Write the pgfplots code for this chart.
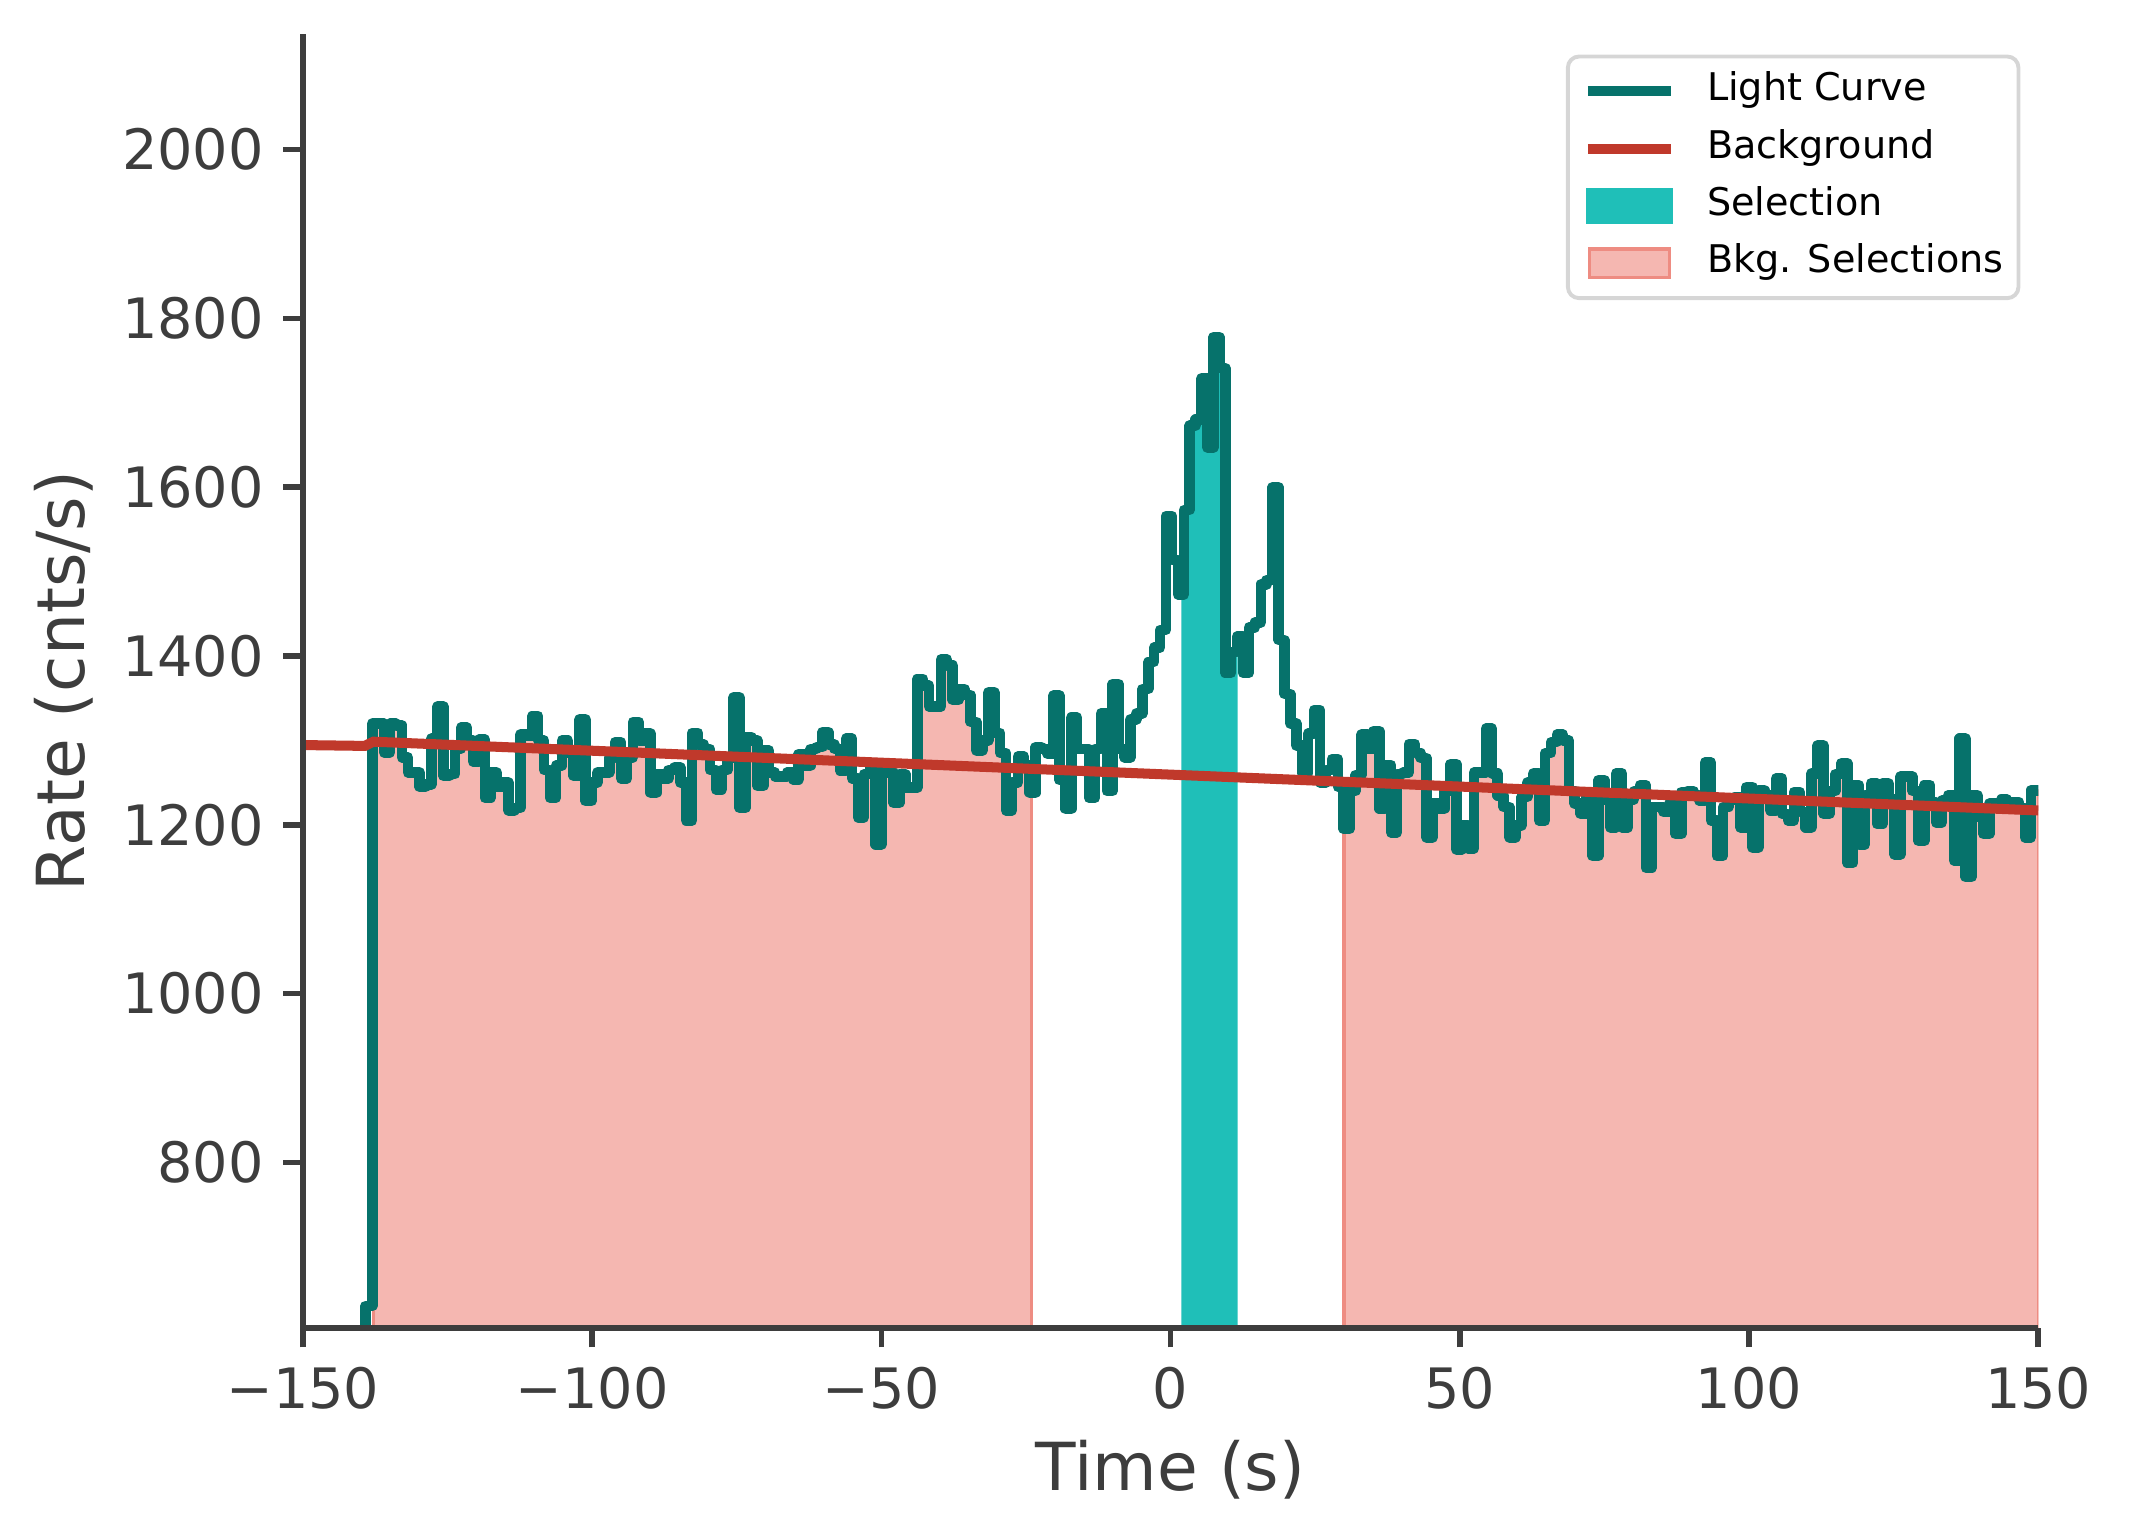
\documentclass[border=0pt]{standalone}
\usepackage{fontspec}
\setmainfont{DejaVu Sans}
\usepackage{pgfplots}
\pgfplotsset{compat=1.18}
\usepackage{pgfplotstable}

\definecolor{axgray}{RGB}{61,61,61}
\definecolor{lccol}{RGB}{6,114,107}
\definecolor{bgred}{RGB}{192,57,43}
\definecolor{selcol}{RGB}{31,191,184}
\definecolor{pinkfill}{RGB}{245,183,177}
\definecolor{pinkedge}{RGB}{238,140,130}
\definecolor{lgray}{RGB}{214,214,214}

% light curve (step, value holds from t to next t)
\pgfplotstableread{
t v
-140.300 300
-139.200 630
-138.000 1320
-136.976 1320
-135.952 1286
-134.928 1320
-133.904 1318
-132.880 1280
-131.856 1262
-130.832 1262
-129.808 1245
-128.784 1248
-127.760 1302
-126.736 1340
-125.712 1258
-124.688 1260
-123.664 1290
-122.640 1315
-121.616 1300
-120.592 1275
-119.568 1301
-118.544 1232
-117.520 1262
-116.496 1245
-115.472 1250
-114.448 1217
-113.424 1220
-112.400 1307
-111.376 1306
-110.352 1329
-109.328 1300
-108.304 1265
-107.280 1232
-106.256 1270
-105.232 1300
-104.208 1285
-103.184 1258
-102.160 1325
-101.136 1228
-100.112 1250
-99.088 1262
-98.064 1262
-97.040 1280
-96.016 1298
-94.992 1255
-93.968 1280
-92.944 1322
-91.920 1300
-90.896 1308
-89.872 1238
-88.848 1260
-87.824 1255
-86.800 1265
-85.776 1268
-84.752 1250
-83.728 1205
-82.704 1309
-81.680 1295
-80.656 1290
-79.632 1265
-78.608 1242
-77.584 1265
-76.560 1280
-75.536 1351
-74.512 1220
-73.488 1304
-72.464 1300
-71.440 1246
-70.416 1288
-69.392 1262
-68.368 1257
-67.344 1257
-66.320 1262
-65.296 1254
-64.272 1284
-63.248 1270
-62.224 1290
-61.200 1292
-60.176 1310
-59.152 1295
-58.128 1290
-57.104 1264
-56.080 1302
-55.056 1255
-54.032 1209
-53.008 1260
-51.984 1273
-50.960 1177
-49.936 1262
-48.912 1262
-47.888 1226
-46.864 1260
-45.840 1244
-44.816 1244
-43.792 1373
-42.768 1365
-41.744 1340
-40.720 1340
-39.696 1396
-38.672 1389
-37.648 1348
-36.624 1361
-35.600 1354
-34.576 1322
-33.552 1288
-32.528 1300
-31.504 1357
-30.480 1309
-29.456 1285
-28.432 1217
-27.408 1250
-26.384 1281
-25.360 1270
-24.336 1238
-23.312 1292
-22.288 1290
-21.264 1284
-20.240 1353
-19.216 1253
-18.192 1219
-17.168 1327
-16.144 1290
-15.120 1290
-14.096 1232
-13.072 1290
-12.048 1332
-11.024 1240
-10.000 1367
-8.976 1290
-7.952 1280
-6.928 1325
-5.904 1332
-4.880 1361
-3.856 1393
-2.832 1410
-1.808 1431
-0.784 1566
0.240 1514
1.264 1473
2.288 1573
3.312 1673
4.336 1680
5.360 1729
6.384 1647
7.408 1778
8.432 1741
9.456 1380
10.480 1405
11.504 1423
12.528 1380
13.552 1434
14.576 1440
15.600 1485
16.624 1490
17.648 1600
18.672 1419
19.696 1355
20.720 1320
21.744 1294
22.768 1261
23.792 1308
24.816 1336
25.840 1250
26.864 1265
27.888 1278
28.912 1245
29.936 1195
30.960 1240
31.984 1259
33.008 1307
34.032 1290
35.056 1311
36.080 1219
37.104 1271
38.128 1191
39.152 1260
40.176 1262
41.200 1296
42.224 1285
43.248 1279
44.272 1185
45.296 1225
46.320 1219
47.344 1240
48.368 1272
49.392 1171
50.416 1200
51.440 1172
52.464 1262
53.488 1262
54.512 1314
55.536 1261
56.560 1235
57.584 1221
58.608 1185
59.632 1199
60.656 1233
61.680 1250
62.704 1261
63.728 1205
64.752 1285
65.776 1298
66.800 1307
67.824 1300
68.848 1240
69.872 1225
70.896 1213
71.920 1239
72.944 1163
73.968 1253
74.992 1230
76.016 1197
77.040 1261
78.064 1197
79.088 1230
80.112 1240
81.136 1247
82.160 1149
83.184 1221
84.208 1221
85.232 1215
86.256 1225
87.280 1189
88.304 1239
89.328 1240
90.352 1235
91.376 1229
92.400 1274
93.424 1205
94.448 1163
95.472 1221
96.496 1230
97.520 1233
98.544 1197
99.568 1245
100.592 1173
101.616 1241
102.640 1235
103.664 1217
104.688 1255
105.712 1213
106.736 1205
107.760 1239
108.784 1215
109.808 1197
110.832 1261
111.856 1294
112.880 1213
113.904 1240
114.928 1260
115.952 1273
116.976 1155
118.000 1247
119.024 1177
120.048 1235
121.072 1249
122.096 1201
123.120 1249
124.144 1230
125.168 1165
126.192 1257
127.216 1257
128.240 1240
129.264 1181
130.288 1247
131.312 1227
132.336 1203
133.360 1229
134.384 1235
135.408 1158
136.432 1302
137.456 1138
138.480 1235
139.504 1210
140.528 1189
141.552 1225
142.576 1225
143.600 1230
144.624 1227
145.648 1227
146.672 1220
147.696 1185
148.720 1241
149.744 1241
150.768 1241
}\lc

% first background selection (-137.8 to -24.0)
\pgfplotstableread{
t v
-137.800 1320
-136.976 1320
-135.952 1286
-134.928 1320
-133.904 1318
-132.880 1280
-131.856 1262
-130.832 1262
-129.808 1245
-128.784 1248
-127.760 1302
-126.736 1340
-125.712 1258
-124.688 1260
-123.664 1290
-122.640 1315
-121.616 1300
-120.592 1275
-119.568 1301
-118.544 1232
-117.520 1262
-116.496 1245
-115.472 1250
-114.448 1217
-113.424 1220
-112.400 1307
-111.376 1306
-110.352 1329
-109.328 1300
-108.304 1265
-107.280 1232
-106.256 1270
-105.232 1300
-104.208 1285
-103.184 1258
-102.160 1325
-101.136 1228
-100.112 1250
-99.088 1262
-98.064 1262
-97.040 1280
-96.016 1298
-94.992 1255
-93.968 1280
-92.944 1322
-91.920 1300
-90.896 1308
-89.872 1238
-88.848 1260
-87.824 1255
-86.800 1265
-85.776 1268
-84.752 1250
-83.728 1205
-82.704 1309
-81.680 1295
-80.656 1290
-79.632 1265
-78.608 1242
-77.584 1265
-76.560 1280
-75.536 1351
-74.512 1220
-73.488 1304
-72.464 1300
-71.440 1246
-70.416 1288
-69.392 1262
-68.368 1257
-67.344 1257
-66.320 1262
-65.296 1254
-64.272 1284
-63.248 1270
-62.224 1290
-61.200 1292
-60.176 1310
-59.152 1295
-58.128 1290
-57.104 1264
-56.080 1302
-55.056 1255
-54.032 1209
-53.008 1260
-51.984 1273
-50.960 1177
-49.936 1262
-48.912 1262
-47.888 1226
-46.864 1260
-45.840 1244
-44.816 1244
-43.792 1373
-42.768 1365
-41.744 1340
-40.720 1340
-39.696 1396
-38.672 1389
-37.648 1348
-36.624 1361
-35.600 1354
-34.576 1322
-33.552 1288
-32.528 1300
-31.504 1357
-30.480 1309
-29.456 1285
-28.432 1217
-27.408 1250
-26.384 1281
-25.360 1270
-24.336 1238
-24.000 1238
}\bkgA

% second background selection (30.0 to 150)
\pgfplotstableread{
t v
30.000 1195
30.960 1240
31.984 1259
33.008 1307
34.032 1290
35.056 1311
36.080 1219
37.104 1271
38.128 1191
39.152 1260
40.176 1262
41.200 1296
42.224 1285
43.248 1279
44.272 1185
45.296 1225
46.320 1219
47.344 1240
48.368 1272
49.392 1171
50.416 1200
51.440 1172
52.464 1262
53.488 1262
54.512 1314
55.536 1261
56.560 1235
57.584 1221
58.608 1185
59.632 1199
60.656 1233
61.680 1250
62.704 1261
63.728 1205
64.752 1285
65.776 1298
66.800 1307
67.824 1300
68.848 1240
69.872 1225
70.896 1213
71.920 1239
72.944 1163
73.968 1253
74.992 1230
76.016 1197
77.040 1261
78.064 1197
79.088 1230
80.112 1240
81.136 1247
82.160 1149
83.184 1221
84.208 1221
85.232 1215
86.256 1225
87.280 1189
88.304 1239
89.328 1240
90.352 1235
91.376 1229
92.400 1274
93.424 1205
94.448 1163
95.472 1221
96.496 1230
97.520 1233
98.544 1197
99.568 1245
100.592 1173
101.616 1241
102.640 1235
103.664 1217
104.688 1255
105.712 1213
106.736 1205
107.760 1239
108.784 1215
109.808 1197
110.832 1261
111.856 1294
112.880 1213
113.904 1240
114.928 1260
115.952 1273
116.976 1155
118.000 1247
119.024 1177
120.048 1235
121.072 1249
122.096 1201
123.120 1249
124.144 1230
125.168 1165
126.192 1257
127.216 1257
128.240 1240
129.264 1181
130.288 1247
131.312 1227
132.336 1203
133.360 1229
134.384 1235
135.408 1158
136.432 1302
137.456 1138
138.480 1235
139.504 1210
140.528 1189
141.552 1225
142.576 1225
143.600 1230
144.624 1227
145.648 1227
146.672 1220
147.696 1185
148.720 1241
149.744 1241
150.000 1241
}\bkgB

% source selection (1.85 to 11.6)
\pgfplotstableread{
t v
1.850 1473
2.288 1573
3.312 1673
4.336 1680
5.360 1729
6.384 1647
7.408 1778
8.432 1741
9.456 1380
10.480 1405
11.504 1423
11.600 1423
}\sel

\begin{document}
\begin{tikzpicture}
\begin{axis}[
  name=ax,
  scale only axis,
  axis on top,
  width=311.7pt, height=232.4pt,
  xmin=-150, xmax=150, ymin=604, ymax=2137,
  axis x line*=bottom, axis y line*=left,
  axis line style={-, draw=axgray, line width=1pt},
  xtick={-150,-100,-50,0,50,100,150},
  xticklabels={−150,−100,−50,0,50,100,150},
  ytick={800,1000,1200,1400,1600,1800,2000},
  yticklabels={800,1000,1200,1400,1600,1800,2000},
  tick align=outside,
  major tick length=3.5pt,
  tick style={draw=axgray, line width=1pt},
  tick label style={font=\fontsize{10}{12}\selectfont, text=axgray},
  xlabel={Time (s)}, ylabel={Rate (cnts/s)},
  label style={font=\fontsize{11.9}{14}\selectfont, text=axgray},
  xlabel style={at={(axis description cs:0.5,-0.1093)}, anchor=center},
  ylabel style={at={(axis description cs:-0.1376,0.5)}, anchor=center},
  legend style={at={(rel axis cs:1,1)}, anchor=north east, xshift=-3.2pt, yshift=-3.7pt,
    draw=lgray, line width=0.7pt, rounded corners=2pt, fill=white, text=black,
    font=\fontsize{6.85}{8.2}\selectfont, inner xsep=2.7pt, inner ysep=2.75pt,
    row sep=3.3pt, column sep=5.6pt,
    nodes={inner sep=0pt, text height=5.2pt, text depth=1.8pt}},
  legend cell align=left,
]
\addplot[const plot, fill=pinkfill, draw=pinkedge, line width=0.6pt, forget plot] table[x=t,y=v] {\bkgA} \closedcycle;
\addplot[const plot, fill=pinkfill, draw=pinkedge, line width=0.6pt, forget plot] table[x=t,y=v] {\bkgB} \closedcycle;
\addplot[const plot, fill=selcol, draw=none, forget plot] table[x=t,y=v] {\sel} \closedcycle;
\addplot[const plot, draw=lccol, line width=1.9pt, line join=round, forget plot] table[x=t,y=v] {\lc};
\addplot[draw=bgred, line width=1.8pt, forget plot] coordinates {(-150,1294.5) (-139.3,1293.5) (-137.8,1298.5) (150,1217)};

\addlegendimage{legend image code/.code={\draw[lccol, line width=1.8pt, sharp corners] (0pt,0pt) -- (14.9pt,0pt);}}
\addlegendentry{Light Curve}
\addlegendimage{legend image code/.code={\draw[bgred, line width=1.8pt, sharp corners] (0pt,0pt) -- (14.9pt,0pt);}}
\addlegendentry{Background}
\addlegendimage{legend image code/.code={\fill[selcol, sharp corners] (0pt,-2.85pt) rectangle (14.9pt,2.85pt);}}
\addlegendentry{Selection}
\addlegendimage{legend image code/.code={\filldraw[fill=pinkfill, draw=pinkedge, line width=0.6pt, sharp corners] (0.3pt,-2.55pt) rectangle (14.6pt,2.55pt);}}
\addlegendentry{Bkg. Selections}
\end{axis}
\pgfresetboundingbox
\path[use as bounding box] ([xshift=-54.4pt,yshift=-38.0pt]ax.south west) rectangle ([xshift=16.3pt,yshift=6.1pt]ax.north east);
\end{tikzpicture}
\end{document}
